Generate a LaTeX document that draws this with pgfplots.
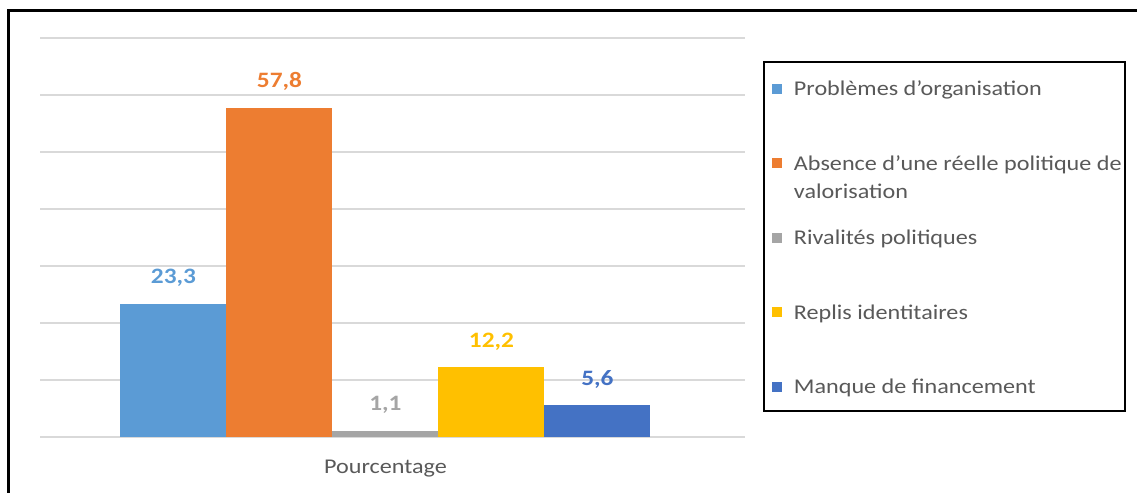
\documentclass[border=0pt]{standalone}
\usepackage{fontspec}
\setmainfont{Carlito}[FakeStretch=1.15]
\usepackage{pgfplots}
\pgfplotsset{compat=1.18}
\definecolor{cA}{HTML}{5B9BD5}
\definecolor{cB}{HTML}{ED7D31}
\definecolor{cC}{HTML}{A5A5A5}
\definecolor{cD}{HTML}{FFC000}
\definecolor{cE}{HTML}{4472C4}
\definecolor{gridgray}{HTML}{D9D9D9}
\definecolor{textgray}{HTML}{595959}
\begin{document}
\begin{tikzpicture}
\useasboundingbox (-20pt,-28pt) rectangle (548.5pt,218.5pt);
\begin{axis}[
  scale only axis, width=352.5pt, height=199.5pt,
  xmin=-0.98, xmax=1.02, ymin=0, ymax=70,
  enlargelimits=false, clip=false,
  ybar=0pt, bar width=53pt,
  ytick={0,10,...,70}, yticklabels={},
  ymajorgrids, grid style={color=gridgray, line width=0.6pt},
  xtick={0}, xticklabels={Pourcentage},
  xticklabel style={anchor=base, yshift=-18.5pt, text=textgray},
  axis line style={draw=none}, major tick length=0pt,
  tick style={draw=none},
  font=\fontsize{10.5}{14}\selectfont,
  nodes near coords,
  /pgf/number format/.cd, use comma, fixed, precision=1, fixed zerofill, assume math mode=true,
  /pgfplots/.cd,
  every node near coord/.append style={anchor=center, yshift=13pt, font=\fontsize{11}{13}\selectfont\bfseries},
  legend cell align=left,
  legend image code/.code={\fill[#1,draw=none] (0pt,1pt) rectangle (5pt,6pt);},
  legend style={at={(1.0255,0.9424)}, anchor=north west, draw=black, line width=1pt,
    text=textgray, font=\fontsize{10.5}{14}\selectfont,
    inner xsep=4pt, inner ysep=7pt, row sep=26pt, column sep=6pt,
    cells={anchor=base west}, nodes={inner sep=0pt}},
]
\addplot[fill=cA, draw=none, every node near coord/.append style={text=cA}] coordinates {(0,23.3)};
\addplot[fill=cB, draw=none, every node near coord/.append style={text=cB}] coordinates {(0,57.8)};
\addplot[fill=cC, draw=none, every node near coord/.append style={text=cC}] coordinates {(0,1.1)};
\addplot[fill=cD, draw=none, every node near coord/.append style={text=cD}] coordinates {(0,12.2)};
\addplot[fill=cE, draw=none, every node near coord/.append style={text=cE}] coordinates {(0,5.6)};
\addlegendentry{\strut Problèmes d’organisation}
\addlegendentry{\begin{tabular}[t]{@{}l@{\hspace{-2.3pt}}}Absence d’une réelle politique de\\valorisation\end{tabular}}
\addlegendentry{\strut Rivalités politiques}
\addlegendentry{\strut Replis identitaires}
\addlegendentry{\strut Manque de financement\rule[-11.5pt]{0pt}{1pt}}
\end{axis}
\draw[line width=1.5pt] (-15.5pt,-28pt) -- (-15.5pt,213pt) -- (548.5pt,213pt);
\end{tikzpicture}
\end{document}
